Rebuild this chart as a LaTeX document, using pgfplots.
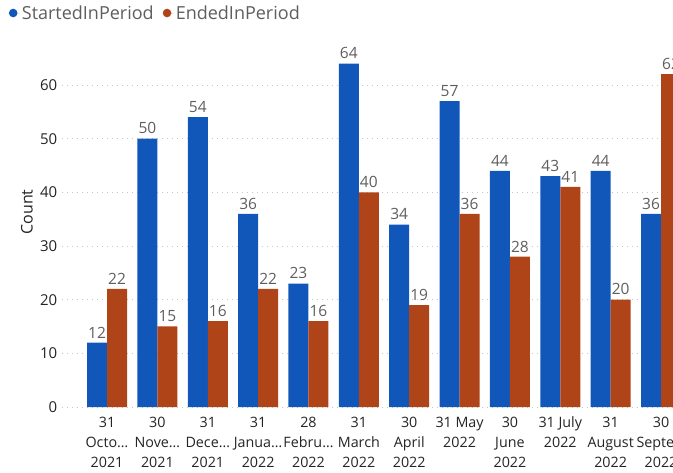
\documentclass[border=0pt]{standalone}
\usepackage{fontspec}
\setmainfont{Open Sans}
\usepackage{pgfplots}
\pgfplotsset{compat=1.18}
\definecolor{cblue}{HTML}{1157BA}
\definecolor{corange}{HTML}{AF4418}
\definecolor{dgray}{HTML}{252423}
\definecolor{mgray}{HTML}{605E5C}
\begin{document}
\begin{tikzpicture}
\begin{scope}
\clip (0,0) rectangle (673pt,-472pt);
\begin{axis}[
  at={(61.7pt,-407pt)}, anchor=south west,
  scale only axis, width=624.5pt, height=375.7pt,
  xmin=-0.9, xmax=11.5, ymin=0, ymax=70,
  ybar=0pt, bar width=20pt,
  axis line style={draw=none},
  major tick length=0pt,
  ytick={0,10,...,60},
  xtick={0,...,11},
  xticklabels={{31\\Octo…\\2021},{30\\Nove…\\2021},{31\\Dece…\\2021},{31\\Janua…\\2022},{28\\Febru…\\2022},{31\\March\\2022},{30\\April\\2022},{31 May\\2022},{30\\June\\2022},{31 July\\2022},{31\\August\\2022},{30\\Septe…\\2022}},
  xticklabel style={align=center, font=\fontsize{14.3}{20}\selectfont, text=dgray, anchor=north, yshift=-6.5pt},
  yticklabel style={font=\fontsize{15}{18}\selectfont, text=dgray, xshift=-1pt},
  /pgf/number format/assume math mode=true,
  ymajorgrids, grid style={gray!45, line width=0.8pt, dash pattern=on 0.8pt off 4.2pt},
  ylabel={Count},
  ylabel style={at={(axis description cs:-0.0556,0.519)}, anchor=center, font=\fontsize{16}{18}\selectfont, text=dgray},
  nodes near coords,
  every node near coord/.append style={font=\fontsize{15.5}{18}\selectfont, text=mgray, yshift=1pt},
  legend style={at={(axis description cs:-0.0849,1.0487)}, anchor=west, draw=none, fill=none, inner sep=0pt,
    font=\fontsize{18}{20}\selectfont, text=mgray, legend columns=2,
    /tikz/every even column/.append style={column sep=7pt}},
  legend image code/.code={\fill[#1, draw=none] (4.3pt,0pt) circle (4.3pt); \path (0pt,0pt) -- (11pt,0pt);},
  legend cell align=left,
]
\addplot[fill=cblue, draw=none] coordinates {(0,12) (1,50) (2,54) (3,36) (4,23) (5,64) (6,34) (7,57) (8,44) (9,43) (10,44) (11,36)};
\addplot[fill=corange, draw=none] coordinates {(0,22) (1,15) (2,16) (3,22) (4,16) (5,40) (6,19) (7,36) (8,28) (9,41) (10,20) (11,62)};
\legend{StartedInPeriod, EndedInPeriod}
\end{axis}
\end{scope}
\pgfresetboundingbox
\useasboundingbox (0,0) rectangle (673pt,-472pt);
\end{tikzpicture}
\end{document}
